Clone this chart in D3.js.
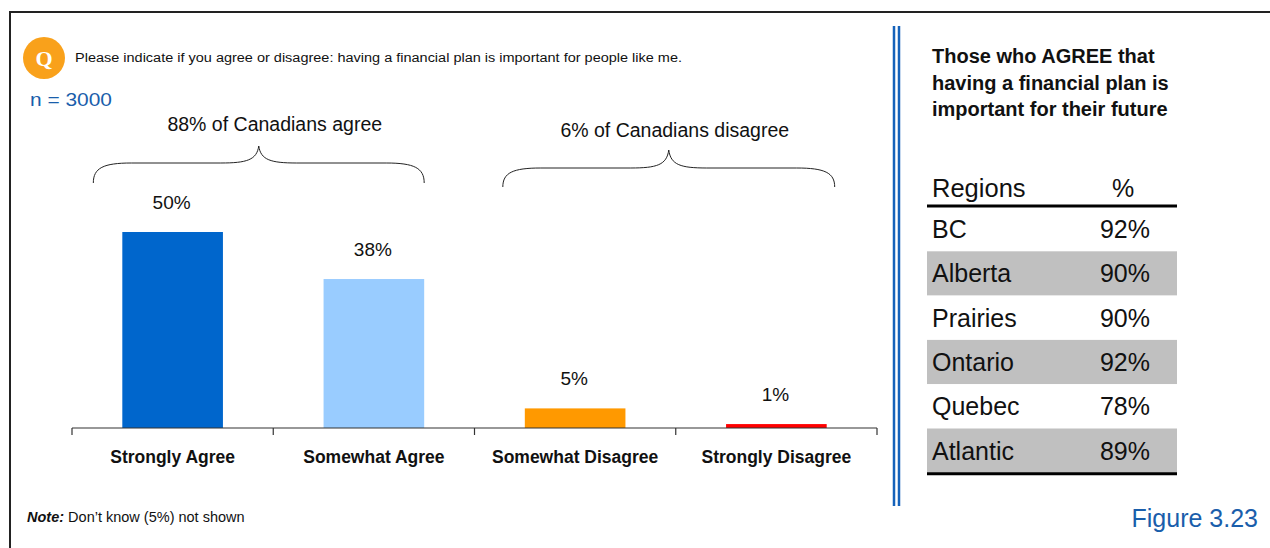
<!DOCTYPE html>
<html>
<head>
<meta charset="utf-8">
<script src="https://cdn.jsdelivr.net/npm/d3@7"></script>
<style>
  html, body { margin: 0; padding: 0; background: #fff; }
  svg { display: block; font-family: "Liberation Sans", Arial, Helvetica, sans-serif; }
</style>
</head>
<body>
<svg id="chart" width="1270" height="548"></svg>
<script>
// Survey responses
const categories = ["Strongly Agree", "Somewhat Agree", "Somewhat Disagree", "Strongly Disagree"];
const values = [50, 38, 5, 1];
const barColors = ["#0066CC", "#99CCFF", "#FF9900", "#FF0000"];

// Response groups summarised by braces
const groupNames = ["agree", "disagree"];
const groupMembers = [[0, 1], [2, 3]];

// Regional breakdown
const regions = ["BC", "Alberta", "Prairies", "Ontario", "Quebec", "Atlantic"];
const regionPct = [92, 90, 90, 92, 78, 89];

const questionText = "Please indicate if you agree or disagree: having a financial plan is important for people like me.";
const sampleSize = 3000;
const titleLines = ["Those who AGREE that", "having a financial plan is", "important for their future"];

const svg = d3.select("#chart");
const BLUE_TEXT = "#1A5EAB";

// Frame
svg.append("line").attr("x1", 9).attr("x2", 1270).attr("y1", 12).attr("y2", 12)
  .attr("stroke", "#222").attr("stroke-width", 2);
svg.append("line").attr("x1", 10).attr("x2", 10).attr("y1", 12).attr("y2", 548)
  .attr("stroke", "#222").attr("stroke-width", 2);

// Divider (double blue rule)
[894, 899].forEach(x => {
  svg.append("line").attr("x1", x).attr("x2", x).attr("y1", 26).attr("y2", 506)
    .attr("stroke", "#1562BA").attr("stroke-width", 2.5);
});

// Question badge
svg.append("circle").attr("cx", 44).attr("cy", 58).attr("r", 21).attr("fill", "#F9A11B");
svg.append("text").attr("x", 44).attr("y", 66).attr("text-anchor", "middle")
  .attr("fill", "#fff").attr("font-family", "'Liberation Serif', 'DejaVu Serif', serif")
  .attr("font-weight", "bold").attr("font-size", 22).text("Q");
svg.append("text").attr("x", 75).attr("y", 62).attr("font-size", 12.5).attr("fill", "#111")
  .attr("textLength", 607).attr("lengthAdjust", "spacingAndGlyphs")
  .text(questionText);

svg.append("text").attr("x", 30).attr("y", 106).attr("font-size", 19).attr("fill", BLUE_TEXT)
  .attr("textLength", 82).attr("lengthAdjust", "spacingAndGlyphs")
  .text("n = " + sampleSize);

// Scales
const x = d3.scaleBand().domain(categories).range([72, 877]).paddingInner(0).paddingOuter(0);
const y = d3.scaleLinear().domain([0, 50]).range([428, 232]);
const barW = x.bandwidth() * 0.5;
const barX = c => x(c) + (x.bandwidth() - barW) / 2;

// Bars
svg.append("g").selectAll("rect").data(categories).join("rect")
  .attr("x", d => barX(d))
  .attr("y", (d, i) => y(values[i]))
  .attr("width", barW)
  .attr("height", (d, i) => y(0) - y(values[i]))
  .attr("fill", (d, i) => barColors[i]);

// Value labels
svg.append("g").selectAll("text").data(categories).join("text")
  .attr("x", d => x(d) + x.bandwidth() / 2 - 1)
  .attr("y", (d, i) => y(values[i]) - 23)
  .attr("text-anchor", "middle").attr("font-size", 19).attr("fill", "#111")
  .text((d, i) => values[i] + "%");

// Category axis with ticks on band boundaries
const axisG = svg.append("g");
const [r0, r1] = x.range();
axisG.append("line").attr("x1", r0).attr("x2", r1).attr("y1", y(0)).attr("y2", y(0))
  .attr("stroke", "#333").attr("stroke-width", 1.2);
const bounds = categories.map(c => x(c)).concat([r1]);
axisG.selectAll("line.tick").data(bounds).join("line").attr("class", "tick")
  .attr("x1", d => d).attr("x2", d => d).attr("y1", y(0)).attr("y2", y(0) + 7)
  .attr("stroke", "#333").attr("stroke-width", 1.2);
axisG.selectAll("text").data(categories).join("text")
  .attr("x", d => x(d) + x.bandwidth() / 2).attr("y", 463)
  .attr("text-anchor", "middle").attr("font-weight", "bold").attr("font-size", 17.5)
  .attr("fill", "#111").text(d => d);

// Group braces
const braceSpecs = [
  { left: -29, right: 0, yEnd: 183, yMid: 163, yTip: 146, labelY: 131, labelShift: 16 },
  { left: -22, right: 8, yEnd: 187, yMid: 168, yTip: 150, labelY: 137, labelShift: 6 }
];
function bracePath(x0, x1, xt, yEnd, yMid, yTip) {
  const h = yEnd - yMid;
  return `M${x0},${yEnd}` +
    ` C${x0},${yMid + h * 0.25} ${x0 + 10},${yMid} ${x0 + 38},${yMid}` +
    ` L${xt - 38},${yMid}` +
    ` C${xt - 12},${yMid} ${xt - 2},${yMid - 3} ${xt},${yTip}` +
    ` C${xt + 2},${yMid - 3} ${xt + 12},${yMid} ${xt + 38},${yMid}` +
    ` L${x1 - 38},${yMid}` +
    ` C${x1 - 10},${yMid} ${x1},${yMid + h * 0.25} ${x1},${yEnd}`;
}
groupMembers.forEach((members, gi) => {
  const s = braceSpecs[gi];
  const first = categories[members[0]], last = categories[members[members.length - 1]];
  const x0 = barX(first) + s.left;
  const x1 = barX(last) + barW + s.right;
  const xt = (x0 + x1) / 2;
  svg.append("path").attr("d", bracePath(x0, x1, xt, s.yEnd, s.yMid, s.yTip))
    .attr("fill", "none").attr("stroke", "#222").attr("stroke-width", 1);
  const total = d3.sum(members, i => values[i]);
  svg.append("text").attr("x", xt + s.labelShift).attr("y", s.labelY)
    .attr("text-anchor", "middle").attr("font-size", 19.5).attr("fill", "#111")
    .text(`${total}% of Canadians ${groupNames[gi]}`);
});

// Footnote
const note = svg.append("text").attr("x", 27).attr("y", 522).attr("font-size", 14.5).attr("fill", "#111");
note.append("tspan").attr("font-weight", "bold").attr("font-style", "italic").text("Note:");
note.append("tspan").text(" Don\u2019t know (5%) not shown");

// Regional panel
svg.append("g").selectAll("text").data(titleLines).join("text")
  .attr("x", 932).attr("y", (d, i) => 63 + i * 26.7)
  .attr("font-weight", "bold").attr("font-size", 20).attr("fill", "#111")
  .text(d => d);

const tblX0 = 927, tblX1 = 1177, rowTop = 207, rowH = 44.3;
const rowY = d3.scaleLinear().domain([0, regions.length]).range([rowTop, rowTop + rowH * regions.length]);

svg.append("text").attr("x", 932).attr("y", 197).attr("font-size", 25.5).attr("fill", "#111").text("Regions");
svg.append("text").attr("x", 1123).attr("y", 197).attr("text-anchor", "middle").attr("font-size", 25)
  .attr("fill", "#111").text("%");

const rows = svg.append("g").selectAll("g").data(regions).join("g");
rows.append("rect")
  .attr("x", tblX0).attr("y", (d, i) => rowY(i)).attr("width", tblX1 - tblX0).attr("height", rowH)
  .attr("fill", (d, i) => i % 2 === 1 ? "#C0C0C0" : "#fff");
rows.append("text").attr("x", 932).attr("y", (d, i) => rowY(i) + rowH / 2 + 9)
  .attr("font-size", 25).attr("fill", "#111").text(d => d);
rows.append("text").attr("x", 1150).attr("y", (d, i) => rowY(i) + rowH / 2 + 9)
  .attr("text-anchor", "end").attr("font-size", 25).attr("fill", "#111")
  .text((d, i) => regionPct[i] + "%");

svg.append("line").attr("x1", tblX0).attr("x2", tblX1).attr("y1", 206).attr("y2", 206)
  .attr("stroke", "#000").attr("stroke-width", 3);
svg.append("line").attr("x1", tblX0).attr("x2", tblX1)
  .attr("y1", rowY(regions.length) + 1).attr("y2", rowY(regions.length) + 1)
  .attr("stroke", "#000").attr("stroke-width", 3);

svg.append("text").attr("x", 1258).attr("y", 527).attr("text-anchor", "end")
  .attr("font-size", 25).attr("fill", BLUE_TEXT).text("Figure 3.23");
</script>
</body>
</html>
